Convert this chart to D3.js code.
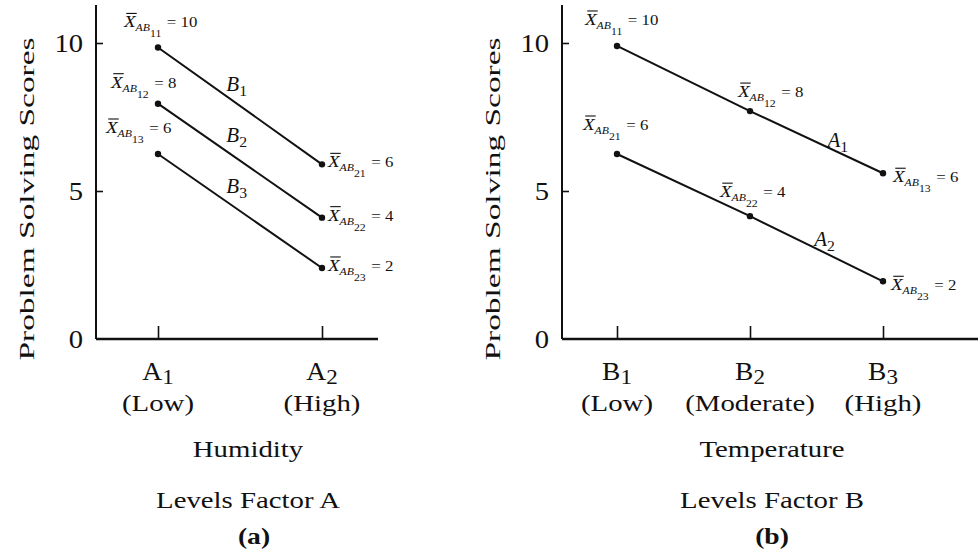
<!DOCTYPE html>
<html>
<head>
<meta charset="utf-8">
<script src="https://cdn.jsdelivr.net/npm/d3@7"></script>
<style>
  html, body { margin: 0; padding: 0; background: #fff; }
  svg { display: block; }
  text { font-family: "Liberation Serif", "Times New Roman", serif; fill: #111; }
</style>
</head>
<body>
<svg id="chart" width="978" height="556"></svg>
<script>
// ---- data ----
const factorA = ["A", "A"]
const factorASub = ["1", "2"]
const levelsA = ["(Low)", "(High)"]
const factorB = ["B", "B", "B"]
const factorBSub = ["1", "2", "3"]
const levelsB = ["(Low)", "(Moderate)", "(High)"]
const yTicks = [0, 5, 10]

// panel (a): one line per B level, across A levels (plotted positions)
const b1Scores = [9.85, 5.9]
const b2Scores = [7.95, 4.1]
const b3Scores = [6.25, 2.4]
// panel (b): one line per A level, across B levels
const a1Scores = [9.9, 7.7, 5.6]
const a2Scores = [6.25, 4.15, 1.95]

// cell-mean labels (subscripts and stated values)
const meansA_sub = [["11", "21"], ["12", "22"], ["13", "23"]]
const meansA_val = [[10, 6], [8, 4], [6, 2]]
const meansB_sub = [["11", "12", "13"], ["21", "22", "23"]]
const meansB_val = [[10, 8, 6], [6, 4, 2]]

// ---- layout ----
const svg = d3.select("#chart")
const yTop = 5, baseY = 339
const y = d3.scaleLinear().domain([0, 10]).range([baseY, 43])

const sxText = 1.2

function stretchText(g, x, yy, parts, o) {
    // parts: [[text, size, dy, italic, bold]]
    const t = g.append("g")
        .attr("transform", `translate(${x},${yy}) ${o.rotate ? "rotate(-90)" : ""} scale(${o.sx || sxText},1)`)
        .append("text")
        .attr("text-anchor", o.anchor || "middle")
    parts.forEach(p => {
        t.append("tspan")
            .attr("dy", p[2] || 0)
            .style("font-size", p[1] + "px")
            .style("font-style", p[3] ? "italic" : "normal")
            .style("font-weight", p[4] ? "bold" : "normal")
            .text(p[0])
    })
    return t
}

function meanLabel(g, x, yy, sub, val) {
    const gg = g.append("g").attr("transform", `translate(${x},${yy}) scale(1.12,1)`)
    const t = gg.append("text")
    const xs = t.append("tspan").style("font-size", "17px").style("font-style", "italic").text("X")
    t.append("tspan").attr("dy", 4).style("font-size", "10.5px").style("font-style", "italic").text("AB")
    t.append("tspan").attr("dy", 6).style("font-size", "10.5px").text(sub)
    t.append("tspan").attr("dy", -10).attr("dx", 5).style("font-size", "15px").text("= " + val)
    // bar over the X
    const w = xs.node().getComputedTextLength()
    gg.append("line").attr("x1", 2).attr("x2", w + 1).attr("y1", -14).attr("y2", -14)
        .attr("stroke", "#111").attr("stroke-width", 1.1)
}

function panel(opt) {
    const g = svg.append("g")
    const x = d3.scalePoint().domain(d3.range(opt.cats.length)).range(opt.catRange)

    // axis lines
    g.append("line").attr("x1", opt.x0).attr("x2", opt.x0).attr("y1", yTop).attr("y2", baseY)
        .attr("stroke", "#111").attr("stroke-width", 2)
    g.append("line").attr("x1", opt.x0).attr("x2", opt.xEnd).attr("y1", baseY).attr("y2", baseY)
        .attr("stroke", "#111").attr("stroke-width", 2.6)

    // y ticks (inward) with numbers
    const ya = g.append("g").attr("transform", `translate(${opt.x0},0)`)
        .call(d3.axisLeft(y).tickValues(yTicks.filter(d => d > 0)).tickSizeInner(-7).tickSizeOuter(0).tickFormat(""))
    ya.select(".domain").remove()
    ya.selectAll("line").attr("stroke", "#111").attr("stroke-width", 1.6)
    yTicks.forEach(v => {
        stretchText(g, opt.x0 - 13, y(v) + 9, [[v, 26]], { anchor: "end", sx: 1.1 })
    })

    // x ticks (upward)
    const xa = g.append("g").attr("transform", `translate(0,${baseY})`)
        .call(d3.axisBottom(x).tickSizeInner(-13).tickSizeOuter(0).tickFormat(""))
    xa.select(".domain").remove()
    xa.selectAll("line").attr("stroke", "#111").attr("stroke-width", 1.6)

    opt.cats.forEach((c, i) => {
        stretchText(g, x(i), 380, [[c, 25], [opt.catSub[i], 21, 4]], { sx: 1.1 })
        stretchText(g, x(i), 411, [[opt.levels[i], 24]], {})
    })
    const mid = (opt.catRange[0] + opt.catRange[1]) / 2 + opt.titleShift
    stretchText(g, mid, 457, [[opt.factorName, 24]], {})
    stretchText(g, mid, 508, [["Levels Factor " + opt.factorLetter, 24]], {})
    stretchText(g, mid + opt.tagShift, 544, [[opt.tag, 23, 0, false, true]], { sx: 1.2 })

    // y title
    stretchText(g, opt.yTitleX, 199, [["Problem Solving Scores", 22]], { rotate: true, sx: 1.52 })

    // lines and points
    const line = d3.line().x((d, i) => x(i)).y(d => y(d))
    opt.series.forEach((s, si) => {
        g.append("path").datum(s).attr("d", line)
            .attr("fill", "none").attr("stroke", "#111").attr("stroke-width", 2)
        g.selectAll(null).data(s).join("circle")
            .attr("cx", (d, i) => x(i)).attr("cy", d => y(d)).attr("r", 3.2).attr("fill", "#111")
        s.forEach((d, i) => {
            const off = opt.labelOff[si][i]
            meanLabel(g, x(i) + off[0], y(d) + off[1], opt.meanSub[si][i], opt.meanVal[si][i])
        })
        // series name placed along the line
        const t = opt.nameAt[si]
        const i0 = Math.floor(t), f = t - i0
        const lx = x(i0) + f * (x(i0 + 1) - x(i0))
        const ly = y(s[i0]) + f * (y(s[i0 + 1]) - y(s[i0]))
        stretchText(g, lx, ly + opt.nameDy[si], [[opt.names[si], 20, 0, true], [opt.nameSub[si], 15, 5]], { sx: 1.05 })
    })
}

panel({
    x0: 96, xEnd: 378, catRange: [158, 322], titleShift: 8, tagShift: 6,
    cats: factorA, catSub: factorASub, levels: levelsA,
    factorName: "Humidity", factorLetter: "A", tag: "(a)", yTitleX: 34,
    series: [b1Scores, b2Scores, b3Scores],
    meanSub: meansA_sub, meanVal: meansA_val,
    labelOff: [[[-34, -20], [6, 3]], [[-47, -16], [6, 3]], [[-52, -21], [6, 3]]],
    names: factorB, nameSub: factorBSub,
    nameAt: [0.48, 0.48, 0.48], nameDy: [-13, -16, -16]
})

panel({
    x0: 562, xEnd: 978, catRange: [617, 883], titleShift: 22, tagShift: 0,
    cats: factorB, catSub: factorBSub, levels: levelsB,
    factorName: "Temperature", factorLetter: "B", tag: "(b)", yTitleX: 500,
    series: [a1Scores, a2Scores],
    meanSub: meansB_sub, meanVal: meansB_val,
    labelOff: [[[-32, -21], [-12, -14], [10, 9]], [[-34, -24], [-30, -19], [8, 9]]],
    names: factorA, nameSub: factorASub,
    nameAt: [1.66, 1.56], nameDy: [-5, -7]
})
</script>
</body>
</html>
